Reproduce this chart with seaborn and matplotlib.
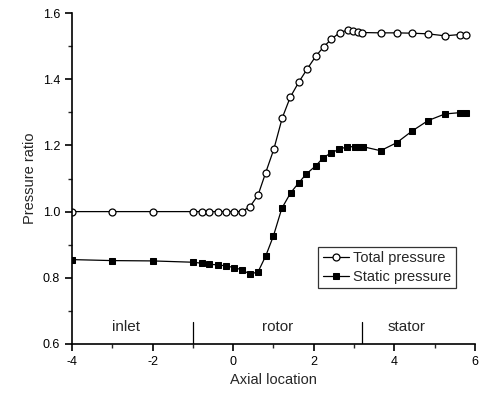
import matplotlib
matplotlib.use("Agg")
import matplotlib.pyplot as plt
from matplotlib.ticker import MultipleLocator
import seaborn as sns
import pandas as pd

total_x = [-4, -3, -2, -0.99, -0.78, -0.59, -0.38, -0.18, 0.02, 0.22, 0.42, 0.62, 0.81, 1.01,
           1.22, 1.42, 1.64, 1.84, 2.05, 2.25, 2.44, 2.65, 2.86, 2.98, 3.1, 3.2, 3.66, 4.06,
           4.45, 4.84, 5.26, 5.63, 5.78]
total_y = [1.0, 1.0, 1.0, 1.0, 1.0, 1.0, 1.0, 1.0, 1.0, 1.0, 1.015, 1.05, 1.118, 1.188,
           1.283, 1.346, 1.393, 1.431, 1.469, 1.498, 1.521, 1.541, 1.549, 1.546, 1.543, 1.541,
           1.54, 1.54, 1.539, 1.537, 1.531, 1.535, 1.535]

static_x = [-4, -3, -2, -0.99, -0.78, -0.59, -0.38, -0.18, 0.02, 0.22, 0.42, 0.62, 0.81, 1.0,
            1.21, 1.43, 1.63, 1.82, 2.05, 2.24, 2.44, 2.63, 2.83, 3.02, 3.13, 3.23, 3.66, 4.06,
            4.45, 4.84, 5.26, 5.63, 5.78]
static_y = [0.855, 0.852, 0.851, 0.847, 0.844, 0.841, 0.839, 0.836, 0.831, 0.824, 0.811, 0.818,
            0.866, 0.926, 1.01, 1.057, 1.087, 1.114, 1.138, 1.163, 1.178, 1.188, 1.196, 1.196,
            1.196, 1.196, 1.184, 1.208, 1.244, 1.275, 1.295, 1.299, 1.299]

regions = ["inlet", "rotor", "stator"]
region_x = [-2.65, 1.1, 4.3]
separators = [-1.0, 3.19]

sns.set_style("ticks")
plt.rcParams['font.family'] = ['Liberation Sans', 'DejaVu Sans']
plt.rcParams['axes.unicode_minus'] = False
plt.rcParams['xtick.direction'] = 'out'
plt.rcParams['ytick.direction'] = 'out'

fig = plt.figure(figsize=(4.83, 4.0), dpi=100)
ax = fig.add_axes([0.149, 0.14, 0.834, 0.8275])

df_t = pd.DataFrame({"x": total_x, "y": total_y})
df_s = pd.DataFrame({"x": static_x, "y": static_y})

sns.lineplot(data=df_t, x="x", y="y", sort=False, ax=ax, color="black", lw=0.9,
             marker="o", markersize=5, markerfacecolor="white", markeredgecolor="black",
             markeredgewidth=0.9, label="Total pressure")
sns.lineplot(data=df_s, x="x", y="y", sort=False, ax=ax, color="black", lw=0.9,
             marker="s", markersize=5, markerfacecolor="black", markeredgecolor="black",
             label="Static pressure")

for sx in separators:
    ax.plot([sx, sx], [0.6, 0.667], color="black", lw=0.9)
for name, rx in zip(regions, region_x):
    ax.text(rx, 0.652, name, ha="center", va="center", fontsize=11)

ax.set_xlim(-4, 6)
ax.set_ylim(0.6, 1.6)
ax.xaxis.set_major_locator(MultipleLocator(2))
ax.xaxis.set_minor_locator(MultipleLocator(1))
ax.yaxis.set_minor_locator(MultipleLocator(0.1))
ax.set_yticks([0.6, 0.8, 1.0, 1.2, 1.4, 1.6])
ax.set_yticklabels(["0.6", "0.8", "1.0", "1.2", "1.4", "1.6"])
ax.tick_params(which="major", length=5, width=1.2, labelsize=9, colors="black")
ax.tick_params(which="minor", length=3, width=1.0)
ax.set_xlabel("Axial location", fontsize=10.5)
ax.set_ylabel("Pressure ratio", fontsize=10.5)
for s in ["top", "right"]:
    ax.spines[s].set_visible(False)
for s in ["left", "bottom"]:
    ax.spines[s].set_linewidth(1.2)
    ax.spines[s].set_color("black")

leg = ax.legend(loc="lower right", bbox_to_anchor=(0.953, 0.169), fontsize=10.5,
                frameon=True, fancybox=False, edgecolor="black", handlelength=1.8,
                handletextpad=0.3, borderpad=0.3, labelspacing=0.3, borderaxespad=0)
leg.get_frame().set_linewidth(0.9)

fig.savefig("out.png", dpi=100)
